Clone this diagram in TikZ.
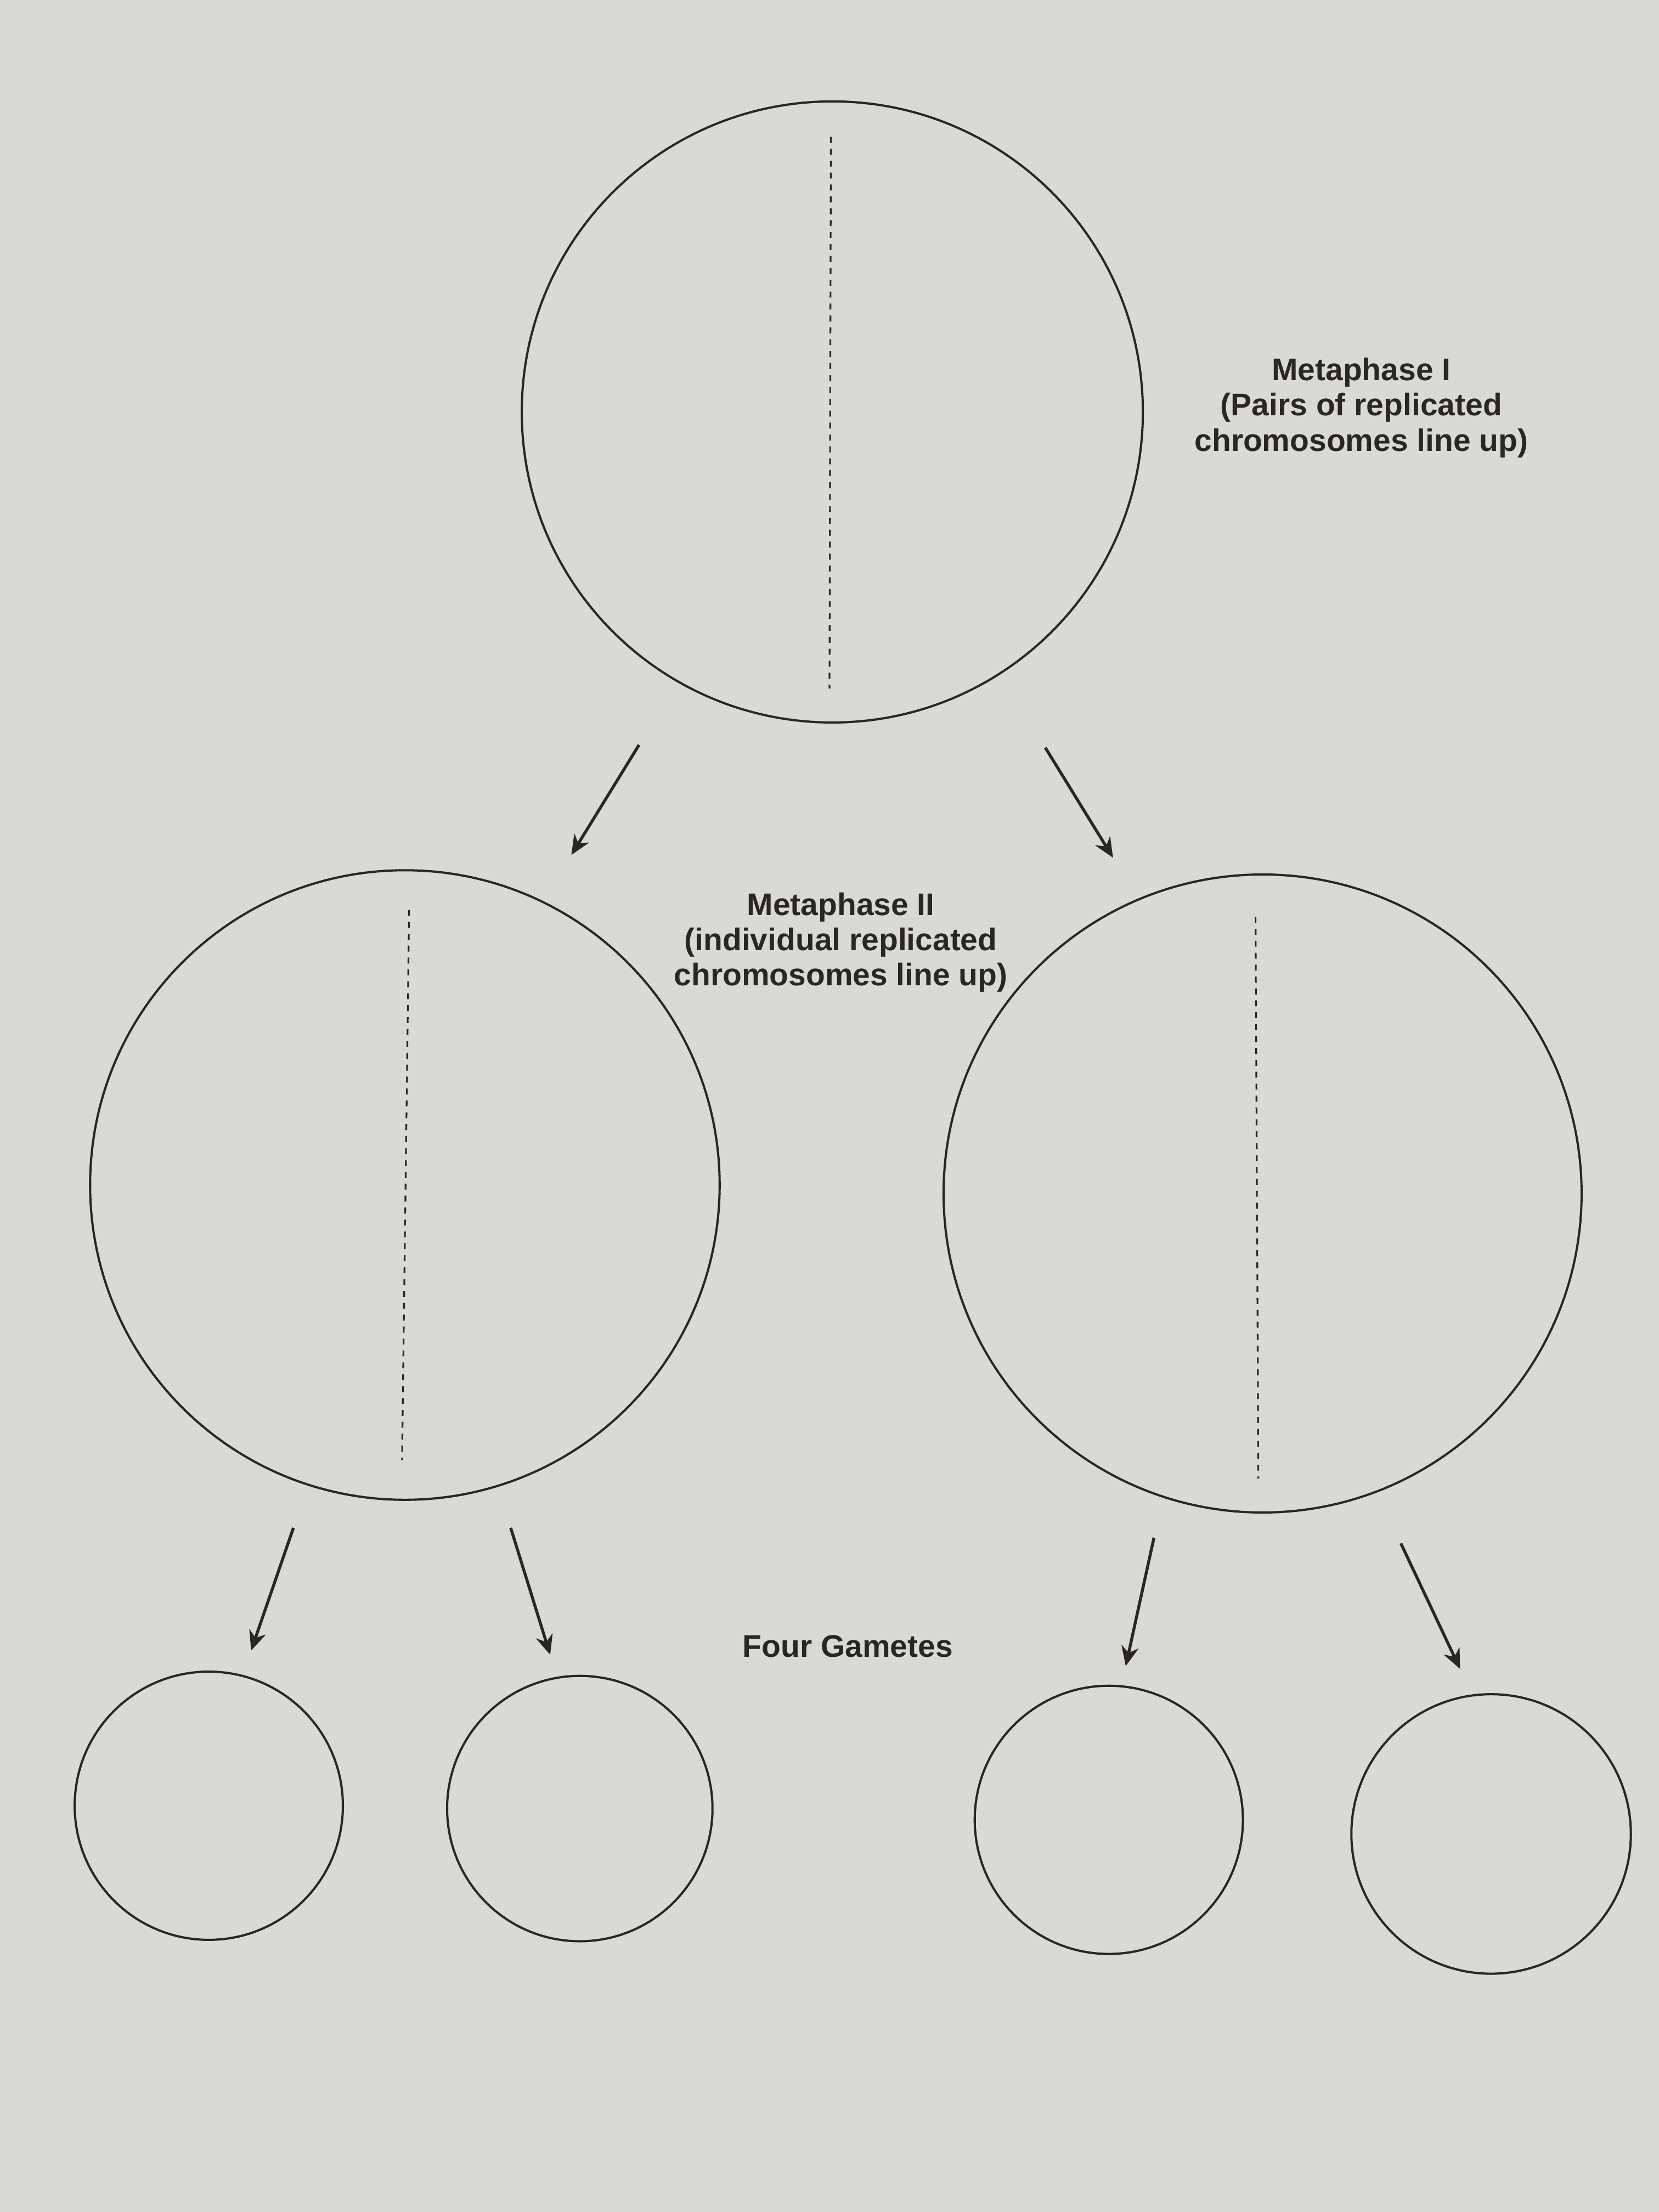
\documentclass[tikz,border=0pt]{standalone}
\usepackage{fontspec}
\setmainfont{Liberation Sans}
\usetikzlibrary{arrows.meta}
\definecolor{paper}{HTML}{D9D9D6}
\definecolor{ink}{HTML}{2A2626}
\begin{document}
\begin{tikzpicture}[x=0.01cm,y=-0.01cm,
  cell/.style={circle,draw=ink,line width=0.45pt,inner sep=0pt},
  axis/.style={draw=ink,dashed,dash pattern=on 1.2pt off 1.2pt,line width=0.35pt},
  arr/.style={draw=ink,line width=0.6pt,-{Stealth[length=4pt,width=3.5pt]}},
  lbl/.style={font=\fontsize{6.3}{7.1}\selectfont\bfseries,text=ink,align=center}]
\fill[paper] (0,0) rectangle (1176,1568);
\useasboundingbox (0,0) rectangle (1176,1568);
\node[cell,minimum size=4.40cm] (m1) at (590,292) {};
\node[cell,minimum size=4.46cm] (m2l) at (287,840) {};
\node[cell,minimum size=4.52cm] (m2r) at (895,846) {};
\node[cell,minimum size=1.90cm] (g1) at (148,1280) {};
\node[cell,minimum size=1.88cm] (g2) at (411,1282) {};
\node[cell,minimum size=1.90cm] (g3) at (786,1290) {};
\node[cell,minimum size=1.98cm] (g4) at (1057,1300) {};
\coordinate (d1a) at (589,97); \coordinate (d1b) at (588,488);
\coordinate (d2a) at (290,645); \coordinate (d2b) at (285,1035);
\coordinate (d3a) at (890,650); \coordinate (d3b) at (892,1048);
\draw[axis] (d1a) -- (d1b);
\draw[axis] (d2a) -- (d2b);
\draw[axis] (d3a) -- (d3b);
\coordinate (a1s) at (453,528); \coordinate (a1e) at (405,606);
\coordinate (a2s) at (741,530); \coordinate (a2e) at (789,608);
\coordinate (a3s) at (208,1083); \coordinate (a3e) at (178,1170);
\coordinate (a4s) at (362,1083); \coordinate (a4e) at (390,1173);
\coordinate (a5s) at (818,1090); \coordinate (a5e) at (798,1181);
\coordinate (a6s) at (993,1094); \coordinate (a6e) at (1035,1183);
\draw[arr] (a1s) -- (a1e);
\draw[arr] (a2s) -- (a2e);
\draw[arr] (a3s) -- (a3e);
\draw[arr] (a4s) -- (a4e);
\draw[arr] (a5s) -- (a5e);
\draw[arr] (a6s) -- (a6e);
\node[lbl] (t1) at (965,289) {Metaphase I\\(Pairs of replicated\\chromosomes line up)};
\node[lbl] (t2) at (596,668) {Metaphase II\\(individual replicated\\chromosomes line up)};
\node[lbl] (t3) at (601,1167) {Four Gametes};
\end{tikzpicture}
\end{document}
